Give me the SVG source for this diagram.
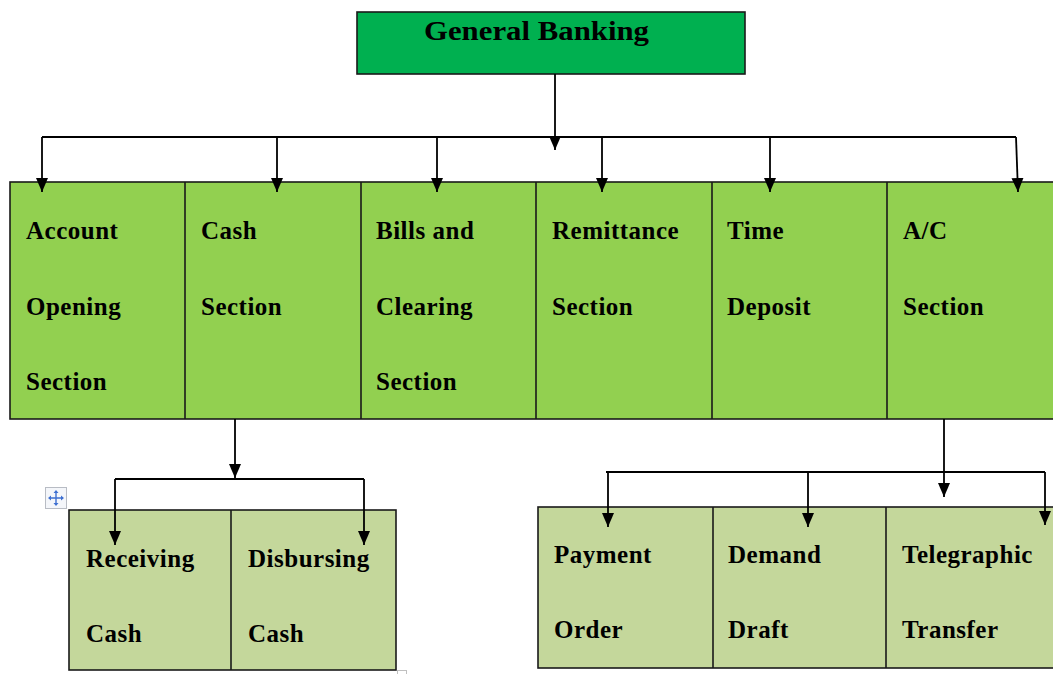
<svg xmlns="http://www.w3.org/2000/svg" width="1053" height="674" viewBox="0 0 1053 674">
<defs>
<marker id="ah" viewBox="0 0 14 12" refX="14" refY="6" markerWidth="14" markerHeight="12" markerUnits="userSpaceOnUse" orient="auto">
<path d="M0,0 L14,6 L0,12 Z" fill="#000"/>
</marker>
</defs>
<style>
.box{stroke:#1a1a1a;stroke-width:1.6}
.top{fill:#00B050}
.mid{fill:#92D050}
.sub{fill:#C4D79B}
.div{stroke:#1a1a1a;stroke-width:1.6;fill:none}
.t{font-family:"Liberation Serif","Times New Roman",serif;font-weight:bold;font-size:25px;fill:#000;letter-spacing:0.5px}
.c{stroke:#000;stroke-width:1.8;fill:none}
.a{marker-end:url(#ah)}
</style>
<rect width="1053" height="674" fill="#fff"/>

<g id="general-banking">
<rect class="box top" x="357" y="12" width="388" height="62"/>
<text class="t" x="424" y="40" textLength="225" lengthAdjust="spacingAndGlyphs" style="font-size:28px;letter-spacing:0">General Banking</text>
</g>

<g id="sections">
<rect class="box mid" x="10" y="182" width="1050" height="237"/>
<path class="div" d="M185,182V419M361,182V419M536,182V419M712,182V419M887,182V419"/>
</g>
<g id="account-opening">
<text class="t" x="26" y="239">Account</text>
<text class="t" x="26" y="315">Opening</text>
<text class="t" x="26" y="390">Section</text>
</g>
<g id="cash-section">
<text class="t" x="201" y="239">Cash</text>
<text class="t" x="201" y="315">Section</text>
</g>
<g id="bills-clearing">
<text class="t" x="376" y="239">Bills and</text>
<text class="t" x="376" y="315">Clearing</text>
<text class="t" x="376" y="390">Section</text>
</g>
<g id="remittance">
<text class="t" x="552" y="239">Remittance</text>
<text class="t" x="552" y="315">Section</text>
</g>
<g id="time-deposit">
<text class="t" x="727" y="239">Time</text>
<text class="t" x="727" y="315">Deposit</text>
</g>
<g id="ac-section">
<text class="t" x="903" y="239">A/C</text>
<text class="t" x="903" y="315">Section</text>
</g>

<g id="cash-sub">
<rect class="box sub" x="69" y="510" width="327" height="160"/>
<path class="div" d="M231,510V670"/>
</g>
<g id="receiving-cash">
<text class="t" x="86" y="567">Receiving</text>
<text class="t" x="86" y="642">Cash</text>
</g>
<g id="disbursing-cash">
<text class="t" x="248" y="567">Disbursing</text>
<text class="t" x="248" y="642">Cash</text>
</g>

<g id="ac-sub">
<rect class="box sub" x="538" y="507" width="530" height="161"/>
<path class="div" d="M713,507V668M886,507V668"/>
</g>
<g id="payment-order">
<text class="t" x="554" y="563">Payment</text>
<text class="t" x="554" y="638">Order</text>
</g>
<g id="demand-draft">
<text class="t" x="728" y="563">Demand</text>
<text class="t" x="728" y="638">Draft</text>
</g>
<g id="telegraphic-transfer">
<text class="t" x="902" y="563">Telegraphic</text>
<text class="t" x="902" y="638">Transfer</text>
</g>

<g id="move-handle">
<rect x="45.5" y="487.5" width="21" height="21" fill="#f4f6fa" stroke="#b8bcc4" stroke-width="1"/>
<path d="M56,491V505M49,498H63" stroke="#3d6fd1" stroke-width="1.4"/>
<path d="M56,490l-2.5,3h5zM56,506l-2.5,-3h5zM48,498l3,-2.5v5zM64,498l-3,-2.5v5z" fill="#3d6fd1"/>
</g>
<rect x="397.5" y="670.5" width="9" height="6" fill="#fff" stroke="#c0c0c0" stroke-width="1"/>

<g id="connectors">
<path class="c a" d="M555,74V150"/>
<path class="c" d="M42,137H1016"/>
<path class="c a" d="M42,137V192"/>
<path class="c a" d="M277,137V192"/>
<path class="c a" d="M437,137V192"/>
<path class="c a" d="M602,137V192"/>
<path class="c a" d="M770,137V192"/>
<path class="c a" d="M1016,137L1018,192"/>

<path class="c a" d="M235,419V478"/>
<path class="c" d="M115,479H364"/>
<path class="c a" d="M115,479V545"/>
<path class="c a" d="M364,479V545"/>

<path class="c a" d="M944,419V497"/>
<path class="c" d="M606,472H1045"/>
<path class="c a" d="M608,472V527"/>
<path class="c a" d="M808,472V527"/>
<path class="c a" d="M1045,472V525"/>
</g>
</svg>
